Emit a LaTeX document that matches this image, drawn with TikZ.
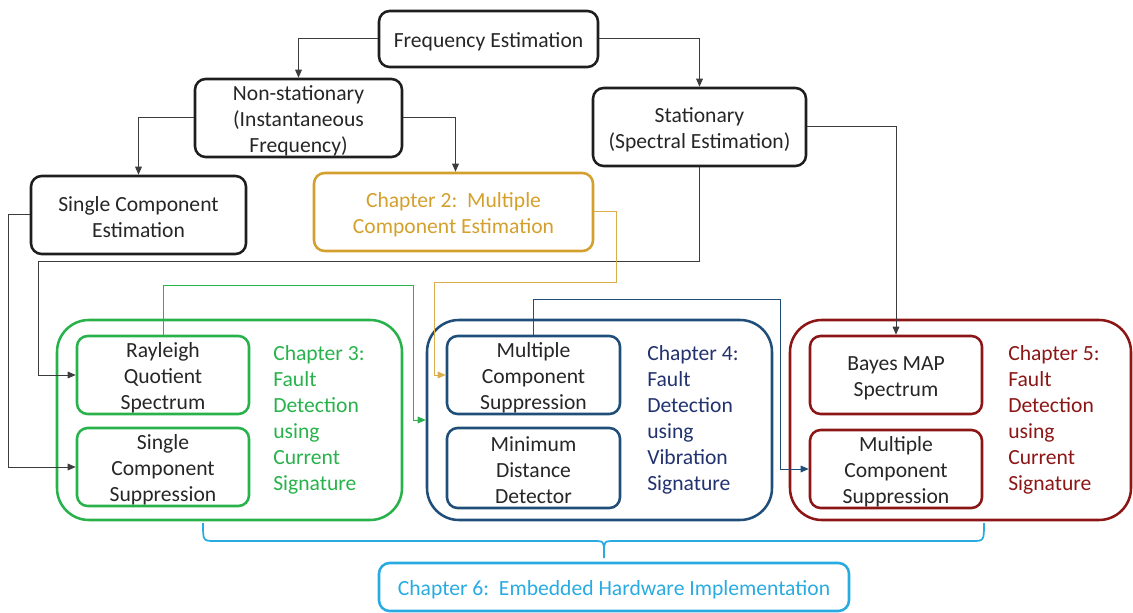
\documentclass[tikz,border=0pt]{standalone}
\usepackage{fontspec}
\setmainfont{Carlito}
\usetikzlibrary{arrows.meta}

\definecolor{boxgray}{RGB}{30,30,30}
\definecolor{textgray}{RGB}{38,38,38}
\definecolor{linegray}{RGB}{60,60,60}
\definecolor{chgold}{RGB}{212,160,45}
\definecolor{chgreen}{RGB}{40,178,75}
\definecolor{chblue}{RGB}{31,78,121}
\definecolor{chnavy}{RGB}{34,50,110}
\definecolor{chred}{RGB}{140,22,22}
\definecolor{chsky}{RGB}{41,171,226}

% taller first line so box text sits a little lower
\newcommand{\boxstrut}{\rule{0pt}{15pt}}

\tikzset{
  boxsize/.style 2 args={minimum width=#1*0.75pt, minimum height=#2*0.75pt},
  txt/.style={font=\fontsize{16.2}{19.5}\selectfont},
  blk/.style={txt, draw=boxgray, line width=1.9pt, rounded corners=8pt,
    text=textgray, align=center, inner ysep=0pt, inner xsep=3pt},
  chapter/.style={draw=#1, line width=1.9pt, rounded corners=24pt},
  chtext/.style={txt, text=#1, align=left, anchor=west, inner sep=0pt},
  conn/.style={-{Triangle[length=6pt,width=5pt]}, line width=0.75pt, draw=linegray},
}

\begin{document}
\begin{tikzpicture}[x=0.75pt,y=-0.75pt]
  \useasboundingbox (0,0) rectangle (1133,613);

  % estimation tree
  \node[blk, boxsize={219}{56}] (freq) at (488.5,39) {\boxstrut Frequency Estimation};
  \node[blk, boxsize={207}{78}] (nonstat) at (298.5,118) {\boxstrut Non-stationary\\(Instantaneous\\Frequency)};
  \node[blk, boxsize={213}{78}] (stat) at (699.5,127) {\boxstrut Stationary\\(Spectral Estimation)};
  \node[blk, boxsize={215}{78}] (single) at (138.5,215) {\boxstrut Single Component\\Estimation};
  \node[blk, boxsize={279}{78}, draw=chgold, text=chgold] (ch2) at (453.5,212) {\boxstrut Chapter 2:\ \ Multiple\\Component Estimation};

  % chapter 3
  \node[chapter=chgreen, boxsize={345}{200}] (ch3) at (229.5,420) {};
  \node[blk, draw=chgreen, boxsize={172}{78}] (rq) at (163,375) {\boxstrut Rayleigh\\Quotient\\Spectrum};
  \node[blk, draw=chgreen, boxsize={172}{78}] (scs) at (163,467) {\boxstrut Single\\Component\\Suppression};
  \node[chtext=chgreen] (ch3txt) at (273,420) {Chapter 3:\\Fault\\Detection\\using\\Current\\Signature};

  % chapter 4
  \node[chapter=chblue, boxsize={345}{200}] (ch4) at (599.5,420) {};
  \node[blk, draw=chblue, boxsize={173}{78}] (mcs4) at (533.5,375) {\boxstrut Multiple\\Component\\Suppression};
  \node[blk, draw=chblue, boxsize={173}{80}] (mdd) at (533.5,468) {\boxstrut Minimum\\Distance\\Detector};
  \node[chtext=chnavy] (ch4txt) at (647,420) {Chapter 4:\\Fault\\Detection\\using\\Vibration\\Signature};

  % chapter 5
  \node[chapter=chred, boxsize={341}{200}] (ch5) at (960.5,420) {};
  \node[blk, draw=chred, boxsize={172}{78}] (bayes) at (896,375) {\boxstrut Bayes MAP\\Spectrum};
  \node[blk, draw=chred, boxsize={172}{78}] (mcs5) at (896,469) {\boxstrut Multiple\\Component\\Suppression};
  \node[chtext=chred] (ch5txt) at (1008,420) {Chapter 5:\\Fault\\Detection\\using\\Current\\Signature};

  % chapter 6
  \node[blk, draw=chsky, text=chsky, boxsize={470}{48}] (ch6) at (614,587) {\boxstrut Chapter 6:\ \ Embedded Hardware Implementation};

  \draw[conn] (freq.west) -| (nonstat.north);
  \draw[conn] (freq.east) -| (stat.north);
  \draw[conn] (nonstat.west) -| (single.north);
  \draw[conn] (nonstat.east) -| ([xshift=1.5pt]ch2.north);
  \draw[conn] (stat.east) -| (bayes.north);
  \draw[conn] (stat.south) |- (38,262) |- (rq.west);
  \draw[conn] (single.west) -- ++(-21,0) |- (scs.west);
  \draw[conn, draw=chgold!85] (ch2.east) -- ++(22,0) |- (434,283) |- (mcs4.west);
  \draw[conn, draw=chgreen] (rq.north) |- (413,286) |- (ch4.west);
  \draw[conn, draw=chblue] (mcs4.north) |- (780,300) |- (mcs5.west);

  % brace over the three chapters
  \draw[chsky, line width=1.3pt] (203,523) .. controls (203,541) .. (215,541) -- (592,541)
    .. controls (604,541) .. (604,552) -- (604,558)
    (604,552) .. controls (604,541) .. (616,541) -- (972,541) .. controls (984,541) .. (984,523);
\end{tikzpicture}
\end{document}
